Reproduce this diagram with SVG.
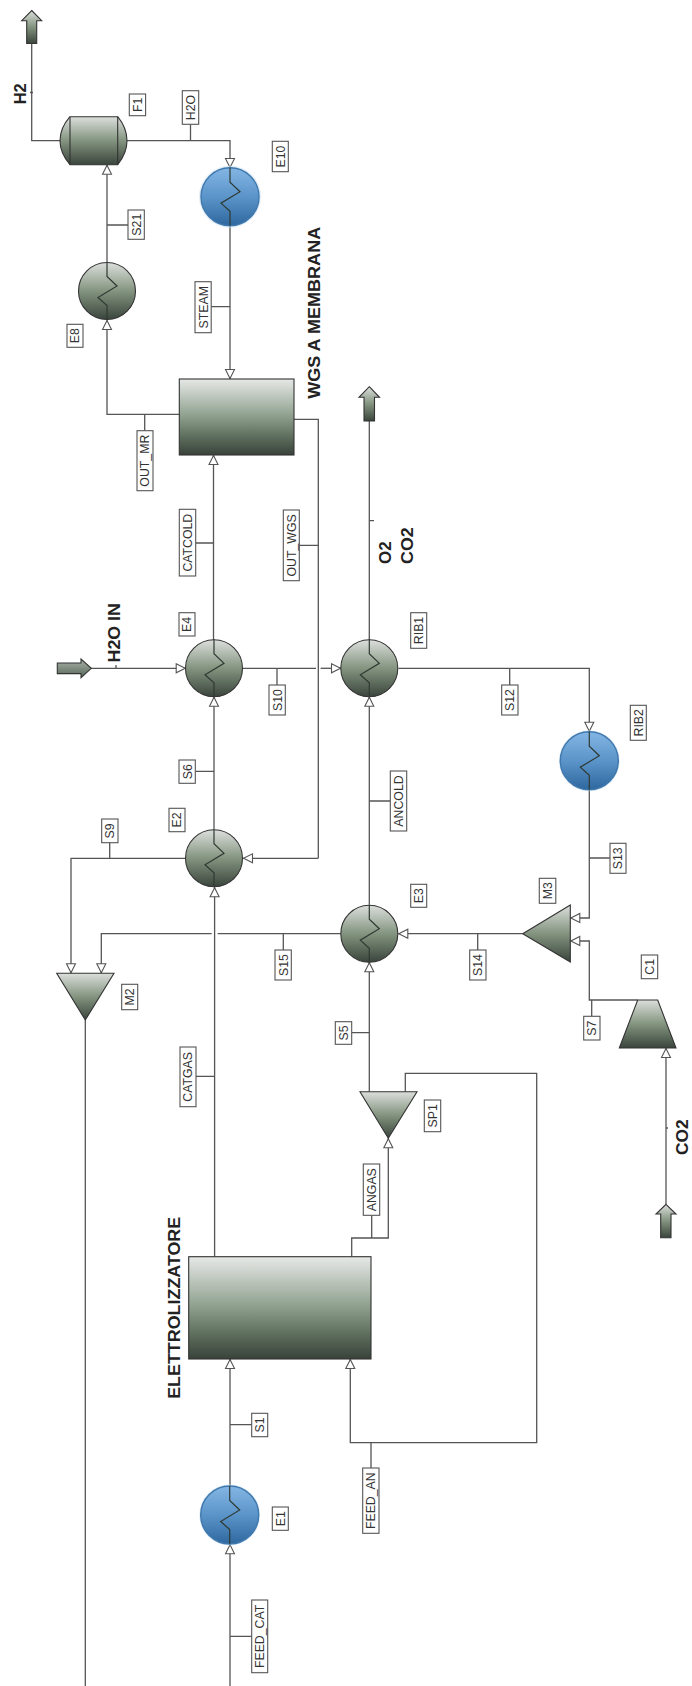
<svg xmlns="http://www.w3.org/2000/svg" width="692" height="1686" viewBox="0 0 692 1686">
<style>
.c{fill:none;stroke:#555;stroke-width:1.3}
.a{marker-end:url(#arr)}
.e{stroke:#333;stroke-width:1.1}
.z{fill:none;stroke:#2f3a33;stroke-width:1.2}
.b{fill:url(#blue);stroke:#3f78ad;stroke-width:1.4}
.h{fill:url(#hx)}
.l{fill:#fff;stroke:#555;stroke-width:1.1}
.t{font-family:"Liberation Sans",Arial,sans-serif;font-size:12.3px;fill:#333;text-anchor:middle}
.s{font-family:"Liberation Sans",Arial,sans-serif;font-size:17px;font-weight:bold;fill:#222;text-anchor:middle}
</style>
<defs>
<linearGradient id="hx" x1="0" y1="0" x2="0" y2="1"><stop offset="0" stop-color="#dcdfdc"/><stop offset=".5" stop-color="#83947f"/><stop offset="1" stop-color="#3a453c"/></linearGradient>
<linearGradient id="big" x1="0" y1="0" x2="0" y2="1"><stop offset="0" stop-color="#e6e8e6"/><stop offset=".45" stop-color="#95a695"/><stop offset=".75" stop-color="#5f705f"/><stop offset="1" stop-color="#39423a"/></linearGradient>
<linearGradient id="blue" x1="0" y1="0" x2="0" y2="1"><stop offset="0" stop-color="#84b6e4"/><stop offset=".5" stop-color="#5b94c9"/><stop offset="1" stop-color="#2f689e"/></linearGradient>
<linearGradient id="mid" x1="0" y1="0" x2="0" y2="1"><stop offset="0" stop-color="#a9b4a9"/><stop offset="1" stop-color="#556656"/></linearGradient>
<marker id="arr" viewBox="0 0 10 10" refX="10" refY="5" markerWidth="10" markerHeight="10" markerUnits="userSpaceOnUse" orient="auto" overflow="visible"><polygon points="0.5,0.5 9.5,5 0.5,9.5" fill="#fff" stroke="#555" stroke-width="1.1"/></marker>
<g id="zig"><polyline class="z" points="0,-29 0,-14.500 10,-5 -9,6.500 0,14.500 0,29"/></g>
</defs>
<rect width="692" height="1686" fill="#fff"/>

<g id="connectors">
<path class="c" d="M31.700 43.500V140.700H60"/>
<path class="c a" d="M127 140.700H230V168"/>
<path class="c a" d="M230 226V379"/>
<path class="c a" d="M107 262V164.700"/>
<path class="c a" d="M179.300 414.300H107V320"/>
<path class="c" d="M294 419.300H318.300V858.300"/>
<path class="c a" d="M318.300 858.300H243"/>
<path class="c a" d="M213.500 640V455"/>
<path class="c a" d="M91 668.300H185.700"/>
<path class="c" d="M243 668.300H316"/>
<path class="c a" d="M320.600 668.300H341"/>
<path class="c" d="M369.300 421V640"/>
<path class="c a" d="M214 829V696.700"/>
<path class="c a" d="M369.300 904.700V696.700"/>
<path class="c a" d="M398.500 668.300H589.300V731.700"/>
<path class="c a" d="M589.300 790V918H570.300"/>
<path class="c a" d="M637.700 1000H589.300V941H570.300"/>
<path class="c a" d="M522.700 933.700H398.300"/>
<path class="c" d="M340.700 933.700H217.700"/>
<path class="c a" d="M211.700 933.700H101.300V973.300"/>
<path class="c a" d="M185.700 858.300H71V973.300"/>
<path class="c" d="M85.300 1020V1686"/>
<path class="c a" d="M214.600 1256.700V887.300"/>
<path class="c a" d="M369.300 1091.700V962.300"/>
<path class="c a" d="M351.700 1256.700V1238H388.300V1138.300"/>
<path class="c a" d="M405.300 1091.700V1073.300H536.700V1442.700H350.300V1359"/>
<path class="c a" d="M666 1204.300V1048"/>
<path class="c a" d="M230 1486V1359"/>
<path class="c a" d="M230 1686V1544.300"/>
<path class="c" d="M30 92.500H33M190.500 124.300V140.700M211 306.700H230M128 225H107M144.700 414.300V430.700M195.700 543H213.500M299.300 545.300H318.300M116 665V668.300M277 668.300V685M195.300 771.300H214M109.700 842.700V858.300M283.300 933.700V950M196 1076.300H214.600M252 1424.700H230M252 1636.300H230M369.300 520.700H374M509.700 668.300V685M390.300 801H369.300M610 858H589.300M477.700 933.700V950M591.700 1000V1016.300M351.700 1032.700H369.300M371.700 1215.300V1238M371 1442.700V1468M666 1128H668"/>
</g>

<g id="F1"><path class="e h" d="M70 116.700H117.700Q127 128 127 140.700Q127 153 117.700 164.700H70Q60 153 60 140.700Q60 128 70 116.700Z"/><path class="e" fill="none" d="M70 116.700V164.700M117.700 116.700V164.700"/>
<rect class="l" x="129.300" y="94" width="16.300" height="21.700"/><text class="t" transform="translate(141.800,104.800) rotate(-90)">F1</text></g>

<g id="E10"><circle cx="230" cy="196.700" r="31" fill="#cfe2f3" opacity=".6"/><circle class="b" cx="230" cy="196.700" r="29"/><use href="#zig" x="230" y="196.700"/>
<rect class="l" x="272.300" y="141.300" width="16" height="30.400"/><text class="t" transform="translate(284.700,156.500) rotate(-90)">E10</text></g>

<g id="E8"><circle class="e h" cx="107" cy="291" r="28.500"/><use href="#zig" x="107" y="291"/>
<rect class="l" x="67" y="324.300" width="16" height="23"/><text class="t" transform="translate(79.400,335.800) rotate(-90)">E8</text></g>

<g id="WGS"><rect class="e" fill="url(#big)" x="179.300" y="379" width="114.700" height="76"/>
<text class="s" transform="translate(320,312.800) rotate(-90)" textLength="172" lengthAdjust="spacingAndGlyphs">WGS A MEMBRANA</text></g>

<g id="E4"><circle class="e h" cx="214" cy="668.300" r="28.500"/><use href="#zig" x="214" y="668.300"/>
<rect class="l" x="179" y="612.700" width="16" height="23.300"/><text class="t" transform="translate(191.400,624.400) rotate(-90)">E4</text></g>

<g id="E2"><circle class="e h" cx="214" cy="858.300" r="28.500"/><use href="#zig" x="214" y="858.300"/>
<rect class="l" x="169" y="808.300" width="16" height="23.400"/><text class="t" transform="translate(181.400,820) rotate(-90)">E2</text></g>

<g id="RIB1"><circle class="e h" cx="369.300" cy="668.300" r="28.500"/><use href="#zig" x="369.300" y="668.300"/>
<rect class="l" x="410.700" y="612.700" width="16" height="35.600"/><text class="t" transform="translate(423.100,630.500) rotate(-90)">RIB1</text></g>

<g id="RIB2"><circle cx="589.300" cy="760.700" r="30.500" fill="#cfe2f3" opacity=".6"/><circle class="b" cx="589.300" cy="760.700" r="29"/><use href="#zig" x="589.300" y="760.700"/>
<rect class="l" x="630.300" y="705.300" width="16" height="35"/><text class="t" transform="translate(642.700,722.800) rotate(-90)">RIB2</text></g>

<g id="E3"><circle class="e h" cx="369.300" cy="933.700" r="28.500"/><use href="#zig" x="369.300" y="933.700"/>
<rect class="l" x="410.700" y="884.300" width="16" height="23"/><text class="t" transform="translate(423.100,895.800) rotate(-90)">E3</text></g>

<g id="M3"><polygon class="e h" points="522.700,933.700 570.300,905 570.300,962"/>
<rect class="l" x="539.300" y="878.300" width="16.500" height="25"/><text class="t" transform="translate(552,890.800) rotate(-90)">M3</text></g>

<g id="M2"><polygon class="e h" points="56.700,973.300 114,973.300 85.300,1020"/>
<rect class="l" x="121.700" y="984.300" width="16" height="25.400"/><text class="t" transform="translate(134.100,997) rotate(-90)">M2</text></g>

<g id="C1"><polygon class="e h" points="637.700,1000 657.700,1000 676,1048 619.300,1048"/>
<rect class="l" x="641.300" y="955" width="16.400" height="23.700"/><text class="t" transform="translate(653.900,966.800) rotate(-90)">C1</text></g>

<g id="SP1"><polygon class="e h" points="360,1091.700 417,1091.700 388.300,1138.300"/>
<rect class="l" x="424.300" y="1100" width="16.400" height="31.700"/><text class="t" transform="translate(436.900,1115.800) rotate(-90)">SP1</text></g>

<g id="ELETTROLIZZATORE"><rect class="e" fill="url(#big)" x="188.700" y="1256.700" width="182.300" height="102.300"/>
<text class="s" transform="translate(179.500,1307.800) rotate(-90)" textLength="182" lengthAdjust="spacingAndGlyphs">ELETTROLIZZATORE</text></g>

<g id="E1"><circle cx="229.700" cy="1515" r="30.500" fill="#cfe2f3" opacity=".6"/><circle class="b" cx="229.700" cy="1515" r="29"/><use href="#zig" x="229.700" y="1515"/>
<rect class="l" x="272.300" y="1507" width="16" height="23.300"/><text class="t" transform="translate(284.700,1518.700) rotate(-90)">E1</text></g>

<g id="H2-out"><polygon class="e" fill="url(#hx)" points="31.700,10.500 41.700,20.700 36.700,20.700 36.700,43.500 26.700,43.500 26.700,20.700 21.700,20.700"/>
<text class="s" transform="translate(25.800,93.800) rotate(-90)" textLength="21" lengthAdjust="spacingAndGlyphs">H2</text></g>

<g id="O2-CO2-out"><polygon class="e" fill="url(#hx)" points="369.300,386.700 379.500,397.300 374.500,397.300 374.500,421 364,421 364,397.300 359,397.300"/>
<text class="s" style="text-anchor:start" transform="translate(390.500,564) rotate(-90)">O2</text>
<text class="s" style="text-anchor:start" transform="translate(413.300,564) rotate(-90)" textLength="36.700" lengthAdjust="spacingAndGlyphs">CO2</text></g>

<g id="H2O-IN"><polygon class="e" fill="url(#mid)" points="57.300,663 81,663 81,659 91.300,668.300 81,677.700 81,673.600 57.300,673.600"/>
<text class="s" transform="translate(119.800,632.800) rotate(-90)" textLength="59.300" lengthAdjust="spacingAndGlyphs">H2O IN</text></g>

<g id="CO2-in"><polygon class="e" fill="url(#hx)" points="666,1204.300 676,1214 671,1214 671,1237.700 660.700,1237.700 660.700,1214 656,1214"/>
<text class="s" transform="translate(688,1137.200) rotate(-90)" textLength="35.700" lengthAdjust="spacingAndGlyphs">CO2</text></g>

<g id="S21"><rect class="l" x="128" y="210" width="16.300" height="29.300"/><text class="t" transform="translate(140.500,224.700) rotate(-90)">S21</text></g>
<g id="H2O"><rect class="l" x="182.300" y="90.700" width="16.400" height="33.600"/><text class="t" transform="translate(194.900,107.500) rotate(-90)">H2O</text></g>
<g id="STEAM"><rect class="l" x="195" y="281.700" width="16.200" height="51"/><text class="t" transform="translate(207.500,307.200) rotate(-90)">STEAM</text></g>
<g id="OUT_MR"><rect class="l" x="137" y="430.700" width="16" height="60"/><text class="t" transform="translate(149.400,460.700) rotate(-90)">OUT_MR</text></g>
<g id="CATCOLD"><rect class="l" x="179.300" y="509.300" width="16.400" height="66.700"/><text class="t" transform="translate(191.900,542.700) rotate(-90)">CATCOLD</text></g>
<g id="OUT_WGS"><rect class="l" x="283.300" y="510" width="16" height="70.700"/><text class="t" transform="translate(295.700,545.400) rotate(-90)">OUT_WGS</text></g>
<g id="S10"><rect class="l" x="269" y="685" width="16.300" height="30"/><text class="t" transform="translate(281.500,700) rotate(-90)">S10</text></g>
<g id="S6"><rect class="l" x="179" y="760" width="16.300" height="23.300"/><text class="t" transform="translate(191.500,771.700) rotate(-90)">S6</text></g>
<g id="S9"><rect class="l" x="101.700" y="819" width="16.300" height="23.700"/><text class="t" transform="translate(114.200,830.900) rotate(-90)">S9</text></g>
<g id="S15"><rect class="l" x="275" y="950" width="16.300" height="30"/><text class="t" transform="translate(287.500,965) rotate(-90)">S15</text></g>
<g id="CATGAS"><rect class="l" x="180" y="1047" width="16" height="59.700"/><text class="t" transform="translate(192.400,1076.900) rotate(-90)">CATGAS</text></g>
<g id="S1"><rect class="l" x="251.700" y="1413.300" width="16" height="23.400"/><text class="t" transform="translate(264.100,1425) rotate(-90)">S1</text></g>
<g id="FEED_CAT"><rect class="l" x="251.700" y="1600" width="16" height="72.700"/><text class="t" transform="translate(264.100,1636.400) rotate(-90)">FEED_CAT</text></g>
<g id="S12"><rect class="l" x="501.700" y="685" width="16.300" height="30"/><text class="t" transform="translate(514.200,700) rotate(-90)">S12</text></g>
<g id="ANCOLD"><rect class="l" x="390.300" y="771" width="16.400" height="60"/><text class="t" transform="translate(402.900,801) rotate(-90)">ANCOLD</text></g>
<g id="S13"><rect class="l" x="610" y="843.300" width="16" height="30"/><text class="t" transform="translate(622.400,858.300) rotate(-90)">S13</text></g>
<g id="S14"><rect class="l" x="469.700" y="950" width="16.300" height="30"/><text class="t" transform="translate(482.200,965) rotate(-90)">S14</text></g>
<g id="S7"><rect class="l" x="583.700" y="1016.300" width="16.300" height="23.700"/><text class="t" transform="translate(596.200,1028.200) rotate(-90)">S7</text></g>
<g id="S5"><rect class="l" x="335.300" y="1021.700" width="16.400" height="22.600"/><text class="t" transform="translate(347.900,1033) rotate(-90)">S5</text></g>
<g id="ANGAS"><rect class="l" x="363.300" y="1164" width="16.400" height="51.300"/><text class="t" transform="translate(375.900,1189.700) rotate(-90)">ANGAS</text></g>
<g id="FEED_AN"><rect class="l" x="362.700" y="1468" width="16.300" height="65.300"/><text class="t" transform="translate(375.200,1500.700) rotate(-90)">FEED_AN</text></g>
</svg>
